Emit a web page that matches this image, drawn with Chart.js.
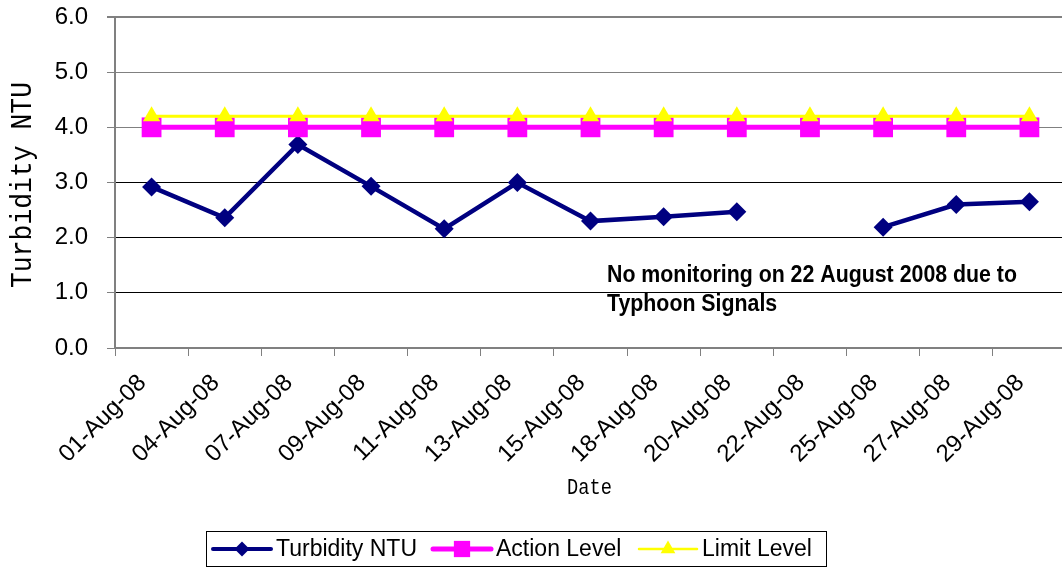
<!DOCTYPE html>
<html>
<head>
<meta charset="utf-8">
<script src="https://cdn.jsdelivr.net/npm/chart.js@4.4.1/dist/chart.umd.min.js"></script>
<style>
html,body{margin:0;padding:0;background:#fff;overflow:hidden;}
#wrap{width:1080px;height:570px;}
</style>
</head>
<body>
<div id="wrap"><canvas id="c" width="1080" height="570"></canvas></div>
<script>
const categories = ['01-Aug-08','04-Aug-08','07-Aug-08','09-Aug-08','11-Aug-08','13-Aug-08','15-Aug-08','18-Aug-08','20-Aug-08','22-Aug-08','25-Aug-08','27-Aug-08','29-Aug-08'];
const turbidity = [2.92, 2.36, 3.69, 2.93, 2.16, 3.00, 2.30, 2.38, 2.47, null, 2.19, 2.60, 2.65];
const actionLevel = [4.0, 4.0, 4.0, 4.0, 4.0, 4.0, 4.0, 4.0, 4.0, 4.0, 4.0, 4.0, 4.0];
const limitLevel = [4.2, 4.2, 4.2, 4.2, 4.2, 4.2, 4.2, 4.2, 4.2, 4.2, 4.2, 4.2, 4.2];
const seriesNames = ['Turbidity NTU', 'Action Level', 'Limit Level'];
const yMin = 0, yMax = 6, yStep = 1;
const yTitle = 'Turbidity NTU';
const xTitle = 'Date';
const noteLines = ['No monitoring on 22 August 2008 due to', 'Typhoon Signals'];

const NAVY = '#000080', MAGENTA = '#FF00FF', YELLOW = '#FFFF00';

function drawMarker(ctx, style, x, y, r, color) {
  ctx.fillStyle = color;
  ctx.beginPath();
  if (style === 'rectRot') {
    ctx.moveTo(x, y - r); ctx.lineTo(x + r, y); ctx.lineTo(x, y + r); ctx.lineTo(x - r, y);
  } else if (style === 'rect') {
    const s = r * Math.SQRT1_2;
    ctx.rect(x - s, y - s, 2 * s, 2 * s);
  } else if (style === 'triangle') {
    ctx.moveTo(x, y - r);
    ctx.lineTo(x + r * Math.sin(Math.PI / 3), y + r * 0.5);
    ctx.lineTo(x - r * Math.sin(Math.PI / 3), y + r * 0.5);
  }
  ctx.closePath();
  ctx.fill();
}

const extras = {
  id: 'extras',
  afterDraw(chart) {
    const ctx = chart.ctx;
    const area = chart.chartArea;
    ctx.save();
    ctx.fillStyle = '#000';
    // annotation note
    ctx.font = 'bold 22px "Liberation Sans", Arial, sans-serif';
    ctx.textAlign = 'left';
    ctx.textBaseline = 'alphabetic';
    const w1 = ctx.measureText(noteLines[0]).width;
    const sx = 410 / w1;
    noteLines.forEach((t, i) => {
      ctx.save();
      ctx.translate(607, 282 + i * 29);
      ctx.scale(sx, 1.05);
      ctx.fillText(t, 0, 0);
      ctx.restore();
    });
    // y title
    ctx.save();
    ctx.font = '30px "Liberation Mono", monospace';
    ctx.textAlign = 'center';
    ctx.textBaseline = 'middle';
    ctx.translate(23, 185);
    ctx.rotate(-Math.PI / 2);
    ctx.scale(0.88, 1);
    ctx.fillText(yTitle, 0, 0);
    ctx.restore();
    // x title
    ctx.save();
    ctx.font = '22px "Liberation Mono", monospace';
    ctx.textAlign = 'center';
    ctx.textBaseline = 'middle';
    ctx.translate((area.left + area.right) / 2 - 1, 488);
    ctx.scale(0.85, 1);
    ctx.fillText(xTitle, 0, 0);
    ctx.restore();
    // legend
    ctx.strokeStyle = '#000';
    ctx.lineWidth = 1;
    ctx.strokeRect(206.5, 531.5, 620, 35);
    const ly = 549;
    const starts = [213, 433, 639];
    const legendMarkers = [
      {style: 'rectRot', r: 7.5, lw: 4},
      {style: 'rect', r: 11.5, lw: 5},
      {style: 'triangle', r: 8.5, lw: 2.5}
    ];
    chart.data.datasets.forEach((ds, i) => {
      const x0 = starts[i];
      ctx.strokeStyle = ds.borderColor;
      ctx.lineWidth = legendMarkers[i].lw;
      ctx.lineCap = 'round';
      ctx.beginPath();
      ctx.moveTo(x0, ly);
      ctx.lineTo(x0 + 58, ly);
      ctx.stroke();
      drawMarker(ctx, legendMarkers[i].style, x0 + 29, ly, legendMarkers[i].r, ds.pointBackgroundColor);
      ctx.fillStyle = '#000';
      ctx.font = '23px "Liberation Sans", Arial, sans-serif';
      ctx.textAlign = 'left';
      ctx.textBaseline = 'middle';
      ctx.fillText(ds.label, x0 + 63, ly + 1);
    });
    ctx.restore();
  }
};

Chart.defaults.font.family = '"Liberation Sans", Arial, sans-serif';
Chart.defaults.color = '#000';

new Chart(document.getElementById('c'), {
  type: 'line',
  data: {
    labels: categories,
    datasets: [
      {
        label: seriesNames[0], data: turbidity, order: 3,
        borderColor: NAVY, backgroundColor: NAVY, borderWidth: 4.5,
        pointStyle: 'rectRot', pointRadius: 9.5, pointBackgroundColor: NAVY, pointBorderColor: NAVY, pointBorderWidth: 0,
        spanGaps: false, tension: 0
      },
      {
        label: seriesNames[1], data: actionLevel, order: 2,
        borderColor: MAGENTA, backgroundColor: MAGENTA, borderWidth: 5,
        pointStyle: 'rect', pointRadius: 14, pointBackgroundColor: MAGENTA, pointBorderColor: MAGENTA, pointBorderWidth: 0,
        tension: 0
      },
      {
        label: seriesNames[2], data: limitLevel, order: 1,
        borderColor: YELLOW, backgroundColor: YELLOW, borderWidth: 3,
        pointStyle: 'triangle', pointRadius: 10, pointBackgroundColor: YELLOW, pointBorderColor: YELLOW, pointBorderWidth: 0,
        tension: 0
      }
    ]
  },
  options: {
    responsive: false,
    animation: false,
    events: [],
    layout: { padding: { top: 17, right: 10, left: 0, bottom: 0 } },
    plugins: { legend: { display: false }, tooltip: { enabled: false } },
    scales: {
      x: {
        type: 'category',
        offset: true,
        afterFit(scale) { scale.height = 222; scale.paddingTop = 0; scale.paddingBottom = 0; },
        grid: { offset: true, drawOnChartArea: false, drawTicks: true, tickLength: 8, tickColor: '#808080', tickWidth: 1 },
        border: { color: '#808080', width: 2 },
        ticks: { autoSkip: false, maxRotation: 45, minRotation: 45, padding: 13, labelOffset: -9, font: { size: 24 }, color: '#000' }
      },
      y: {
        min: yMin, max: yMax,
        afterFit(scale) { scale.width = 115; scale.paddingTop = 0; scale.paddingBottom = 0; },
        grid: {
          color: c => (c.tick && c.tick.value >= 4) ? '#808080' : '#000000',
          lineWidth: c => (c.tick && c.tick.value === 6) ? 2 : 1,
          tickLength: 8, tickColor: '#808080'
        },
        border: { color: '#808080', width: 2 },
        ticks: { stepSize: yStep, padding: 19, font: { size: 24 }, color: '#000', callback: v => Number(v).toFixed(1) }
      }
    }
  },
  plugins: [extras]
});
</script>
</body>
</html>
